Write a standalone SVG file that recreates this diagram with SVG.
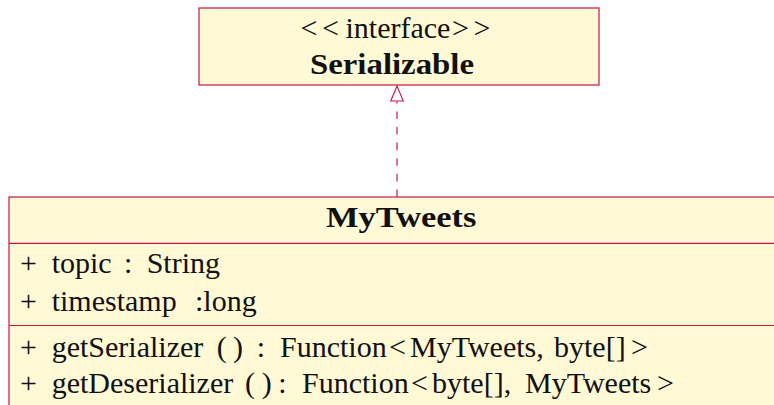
<svg xmlns="http://www.w3.org/2000/svg" width="774" height="405" viewBox="0 0 774 405">
  <style>
    .box { fill: #fff9d6; stroke: #cc1447; stroke-width: 1.2; }
    .sep { stroke: #cc1447; stroke-width: 1.2; }
    .txt { font-family: 'Liberation Serif', serif; font-size: 30px; fill: #111; }
    .bold { font-weight: bold; }
    .realize { stroke: #d4467c; stroke-width: 1.5; stroke-dasharray: 7.6 8; fill: none; }
    .tri { fill: #ffffff; stroke: #cc1447; stroke-width: 1.1; }
  </style>

  <!-- connectors: realization of Serializable by MyTweets -->
  <g id="connectors">
    <line class="realize" x1="397" y1="197" x2="397" y2="101.5"/>
    <path class="tri" d="M397 86 L403.3 101 L390.7 101 Z"/>
  </g>

  <!-- interface Serializable -->
  <g id="Serializable">
    <rect class="box" x="199" y="8" width="400" height="77"/>
    <text class="txt" y="38"><tspan x="300.5">&lt;</tspan><tspan x="322">&lt;</tspan><tspan x="345.5">interface</tspan><tspan x="452">&gt;</tspan><tspan x="473.5">&gt;</tspan></text>
    <text class="txt bold" x="310" y="74" textLength="164" lengthAdjust="spacingAndGlyphs">Serializable</text>
  </g>

  <!-- class MyTweets -->
  <g id="MyTweets">
    <rect class="box" x="9" y="197" width="800" height="260"/>
    <line class="sep" x1="9" y1="243.3" x2="774" y2="243.3"/>
    <line class="sep" x1="9" y1="325.5" x2="774" y2="325.5"/>
    <text class="txt bold" x="326" y="227" textLength="150.5" lengthAdjust="spacingAndGlyphs">MyTweets</text>
    <text class="txt" y="272.7"><tspan x="20">+</tspan> <tspan x="51.7">topic</tspan> <tspan x="124">:</tspan> <tspan x="146.7">String</tspan></text>
    <text class="txt" y="310.7"><tspan x="20">+</tspan> <tspan x="51.7">timestamp</tspan> <tspan x="195">:long</tspan></text>
    <text class="txt" y="356.5"><tspan x="20">+</tspan> <tspan x="51.7">getSerializer</tspan> <tspan x="216.7">(</tspan> <tspan x="233">)</tspan> <tspan x="256.7">:</tspan> <tspan x="280">Function</tspan><tspan x="389">&lt;</tspan><tspan x="410">MyTweets,</tspan> <tspan x="554">byte[]</tspan><tspan x="631">&gt;</tspan></text>
    <text class="txt" y="393"><tspan x="20">+</tspan> <tspan x="51.7">getDeserializer</tspan> <tspan x="245">(</tspan> <tspan x="261.7">)</tspan> <tspan x="278.3">:</tspan> <tspan x="302">Function</tspan><tspan x="411">&lt;</tspan><tspan x="432">byte[],</tspan> <tspan x="525">MyTweets</tspan><tspan x="657">&gt;</tspan></text>
  </g>
</svg>
